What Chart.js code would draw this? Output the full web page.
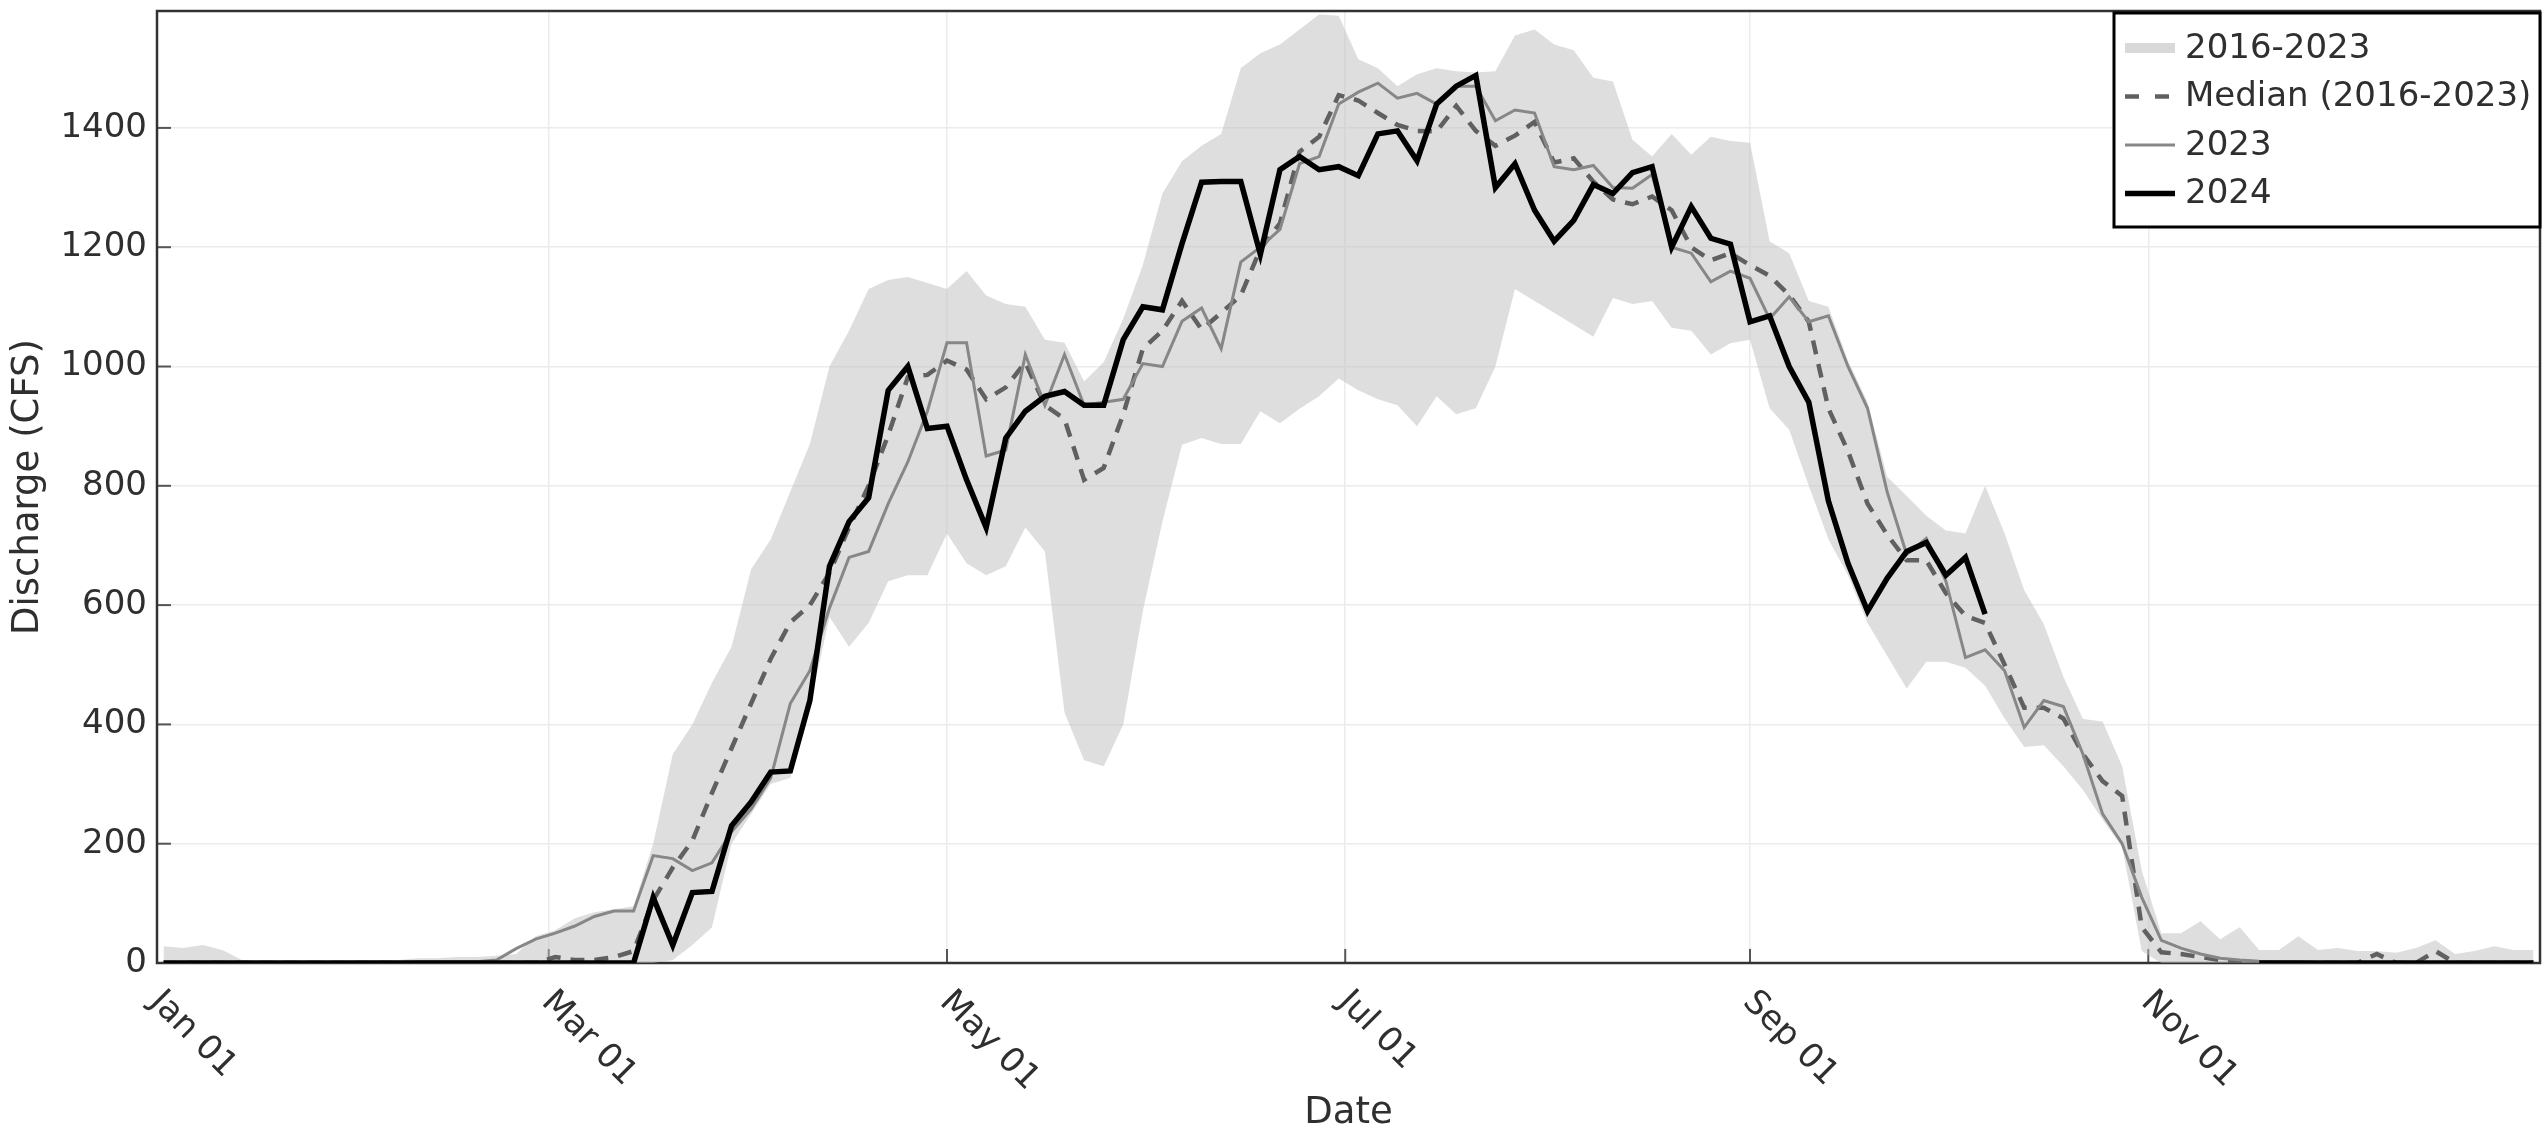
<!DOCTYPE html>
<html>
<head>
<meta charset="utf-8">
<title>Discharge (CFS)</title>
<script src="https://cdn.jsdelivr.net/npm/chart.js@4.4.1/dist/chart.umd.min.js"></script>
<style>
    html, body { margin: 0; padding: 0; background: #fff; }
    #wrap { width: 2542px; height: 1136px; }
</style>
</head>
<body>
<div id="wrap"><canvas id="chartDischarge" width="2542" height="1136"></canvas></div>
<script>
// one value every 3 days, first point on Jan 02 (day index 1)
var dayStep     =   3;

var tickDays    =   [0, 60, 121, 182, 244, 305];
var tickLabels  =   ['Jan 01', 'Mar 01', 'May 01', 'Jul 01', 'Sep 01', 'Nov 01'];
var yTicks      =   [0, 200, 400, 600, 800, 1000, 1200, 1400];

// 2016-2023 envelope
var bandMax = [28,25,30,22,5,3,3,3,3,3,5,5,5,8,8,10,10,12,15,45,55,75,85,90,95,
    200,350,400,470,530,660,710,790,870,1000,
    1060,1130,1145,1150,1140,1130,1160,1119,1105,1100,
    1045,1040,975,1007,1080,1170,1290,1344,1370,1390,
    1500,1525,1540,1565,1590,1588,1515,1500,1470,1490,
    1500,1495,1493,1495,1555,1565,1540,1530,1484,1478,
    1380,1352,1390,1355,1385,1378,1375,1210,1190,1110,
    1100,1010,940,815,783,750,725,720,800,720,
    625,568,480,409,405,330,155,50,50,70,
    40,60,22,22,45,22,25,20,20,17,
    25,38,15,20,28,22,22];

var bandMin = [0,0,0,0,0,0,0,0,0,0,0,0,0,0,0,0,0,0,0,0,0,0,0,0,0,0,
    5,30,60,200,250,300,310,430,580,530,
    570,640,650,650,720,670,650,665,730,690,
    420,340,330,400,590,740,869,880,870,870,
    925,905,929,950,980,960,945,935,900,950,
    920,930,1000,1130,1110,1090,1070,1050,1115,1105,
    1110,1065,1060,1020,1039,1045,930,894,800,711,
    650,570,515,460,505,505,495,465,410,362,
    365,330,290,240,195,20,
    0,0,0,0,0,0,0,0,0,0,0,0,0,0,0,0,0,0,0,0];

var median = [0,0,0,0,0,0,0,0,0,0,0,0,0,0,0,0,0,0,0,0,
    10,5,5,10,20,105,160,205,285,360,
    435,510,571,600,654,730,800,885,982,986,
    1010,995,945,965,1007,935,912,810,830,920,
    1030,1060,1110,1062,1090,1119,1197,1240,1360,1385,
    1455,1446,1425,1405,1395,1394,1437,1395,1370,1387,
    1410,1342,1349,1310,1280,1272,1285,1262,1200,1178,
    1190,1170,1152,1120,1075,930,858,770,718,675,
    675,620,582,570,500,428,428,410,350,305,
    280,60,18,15,10,5,2,
    0,0,0,0,0,0,15,0,0,20,0,0,0,0,0];

var flow2023 = [0,0,0,0,0,0,0,0,0,0,0,0,0,2,2,2,2,5,
    24,40,50,62,78,87,87,180,175,155,
    168,220,258,310,435,490,595,680,690,770,
    840,925,1040,1040,850,860,1020,935,1020,935,
    940,945,1005,1000,1076,1098,1030,1175,1200,1230,
    1340,1352,1440,1460,1475,1450,1458,1440,1470,1470,
    1412,1430,1425,1335,1330,1337,1300,1299,1322,1200,
    1190,1142,1160,1148,1080,1117,1075,1085,1000,930,
    790,685,712,640,512,525,490,395,440,430,
    350,250,200,110,38,25,15,8,5,
    3,2,2,0,0,0,0,0,0,0,0,0,0,0,0];

var flow2024 = [0,0,0,0,0,0,0,0,0,0,0,0,0,0,0,0,0,0,0,0,0,0,0,0,0,
    110,30,118,120,230,270,320,322,440,665,
    740,780,960,1000,896,900,810,730,880,925,
    950,958,935,935,1045,1100,1095,1206,1309,1310,
    1310,1188,1330,1352,1330,1335,1320,1390,1395,1345,
    1440,1470,1488,1300,1340,1262,1210,1245,1305,1290,
    1325,1335,1200,1268,1215,1205,1075,1085,1000,940,
    775,670,590,645,690,705,650,680,585,
    null,null,null,null,null,null,null,null,null,null,null,null,null,
    0,0,0,0,0,0,0,0,0,0,0,0,0,0,0];

var days = bandMax.map((v, i) => i * dayStep + 1);

function toPoints(values) {
    return values.map((v, i) => ({x: days[i], y: v}));
}

var fontName        =   'DejaVu Sans';
var textColor       =   '#2f2f2f';
var bandColor       =   'rgba(190, 190, 190, 0.5)';
var bandLegendColor =   '#d9d9d9';

var extrasPlugin = {
    id: 'extras',
    beforeDatasetsDraw(chart) {
        var ctx     =   chart.ctx;
        var area    =   chart.chartArea;
        var xs      =   chart.scales.x;
        var ys      =   chart.scales.y;
        ctx.save();
        ctx.strokeStyle =   '#555';
        ctx.lineWidth   =   2;
        ys.ticks.forEach(t => {
            var y = ys.getPixelForValue(t.value);
            ctx.beginPath(); ctx.moveTo(area.left, y); ctx.lineTo(area.left + 14, y); ctx.stroke();
        });
        xs.ticks.forEach(t => {
            var x = xs.getPixelForValue(t.value);
            ctx.beginPath(); ctx.moveTo(x, area.bottom); ctx.lineTo(x, area.bottom - 14); ctx.stroke();
        });
        ctx.strokeStyle =   '#333';
        ctx.lineWidth   =   2.5;
        ctx.strokeRect(area.left, area.top, area.right - area.left, area.bottom - area.top);
        ctx.restore();
    },
    afterDraw(chart) {
        var ctx     =   chart.ctx;
        var area    =   chart.chartArea;
        var xs      =   chart.scales.x;
        ctx.save();

        // rotated date labels
        ctx.font            =   '34px "' + fontName + '"';
        ctx.fillStyle       =   textColor;
        ctx.textAlign       =   'left';
        ctx.textBaseline    =   'middle';
        xs.ticks.forEach((t, i) => {
            var x = xs.getPixelForValue(t.value);
            ctx.save();
            ctx.translate(x - 2, area.bottom + 34);
            ctx.rotate(Math.PI / 4);
            ctx.fillText(tickLabels[i], 0, 0);
            ctx.restore();
        });

        // legend box
        var boxL = 2114, boxT = 13, boxR = 2540, boxB = 227;
        ctx.fillStyle   =   '#fff';
        ctx.fillRect(boxL, boxT, boxR - boxL, boxB - boxT);
        ctx.strokeStyle =   '#000';
        ctx.lineWidth   =   3;
        ctx.strokeRect(boxL, boxT, boxR - boxL, boxB - boxT);

        var entries = chart.data.datasets.filter(d => d.label);
        entries.forEach((d, i) => {
            var y = 48 + i * 48.5;
            ctx.beginPath();
            ctx.moveTo(2125, y);
            ctx.lineTo(2175, y);
            if (d.fill) {
                ctx.strokeStyle = bandLegendColor;
                ctx.lineWidth   = 10;
                ctx.setLineDash([]);
            } else {
                ctx.strokeStyle = d.borderColor;
                ctx.lineWidth   = d.borderWidth;
                ctx.setLineDash(d.borderDash ? [14, 16] : []);
            }
            ctx.stroke();
            ctx.setLineDash([]);
            ctx.fillStyle   =   textColor;
            ctx.fillText(d.label, 2185, y + 1);
        });
        ctx.restore();
    }
};

var lineBase = {pointRadius: 0, pointHoverRadius: 0, tension: 0, fill: false};

new Chart(document.getElementById('chartDischarge').getContext('2d'), {
    type: 'line',
    data: {
        datasets: [
            Object.assign({}, lineBase, {
                label: '2016-2023', data: toPoints(bandMax),
                borderColor: 'rgba(0,0,0,0)', borderWidth: 0,
                backgroundColor: bandColor, fill: '+1', order: 3
            }),
            Object.assign({}, lineBase, {
                label: '', data: toPoints(bandMin),
                borderColor: 'rgba(0,0,0,0)', borderWidth: 0, order: 3
            }),
            Object.assign({}, lineBase, {
                label: 'Median (2016-2023)', data: toPoints(median),
                borderColor: '#606060', borderWidth: 4.5, borderDash: [14, 10], order: 2
            }),
            Object.assign({}, lineBase, {
                label: '2023', data: toPoints(flow2023),
                borderColor: '#878787', borderWidth: 3, order: 1
            }),
            Object.assign({}, lineBase, {
                label: '2024', data: toPoints(flow2024),
                borderColor: '#000', borderWidth: 5.5, spanGaps: false, order: 0
            })
        ]
    },
    options: {
        responsive: false,
        animation: false,
        devicePixelRatio: 1,
        layout: {padding: {top: 11, right: 2, left: 0, bottom: 0}},
        plugins: {
            legend: {display: false},
            tooltip: {enabled: false}
        },
        scales: {
            x: {
                type: 'linear',
                min: 0,
                max: 365,
                afterBuildTicks: axis => { axis.ticks = tickDays.map(v => ({value: v})); },
                afterFit: axis => {
                    axis.height         =   173;
                    axis.paddingLeft    =   0;
                    axis.paddingRight   =   0;
                },
                ticks: {display: false},
                grid: {color: '#ececec', lineWidth: 1.5, drawTicks: false},
                border: {display: false},
                title: {
                    display: true, text: 'Date', color: textColor,
                    font: {family: fontName, size: 37, lineHeight: 1},
                    padding: {top: 0, bottom: 4}
                }
            },
            y: {
                min: 0,
                max: 1596,
                afterBuildTicks: axis => { axis.ticks = yTicks.map(v => ({value: v})); },
                afterFit: axis => {
                    axis.width          =   157;
                    axis.paddingTop     =   0;
                    axis.paddingBottom  =   0;
                },
                ticks: {
                    padding: 10, color: textColor,
                    font: {family: fontName, size: 34},
                    callback: v => String(v)
                },
                grid: {color: '#ececec', lineWidth: 1.5, drawTicks: false},
                border: {display: false},
                title: {
                    display: true, text: 'Discharge (CFS)', color: textColor,
                    font: {family: fontName, size: 37, lineHeight: 1},
                    padding: {top: 10, bottom: 0}
                }
            }
        }
    },
    plugins: [extrasPlugin]
});
</script>
</body>
</html>
